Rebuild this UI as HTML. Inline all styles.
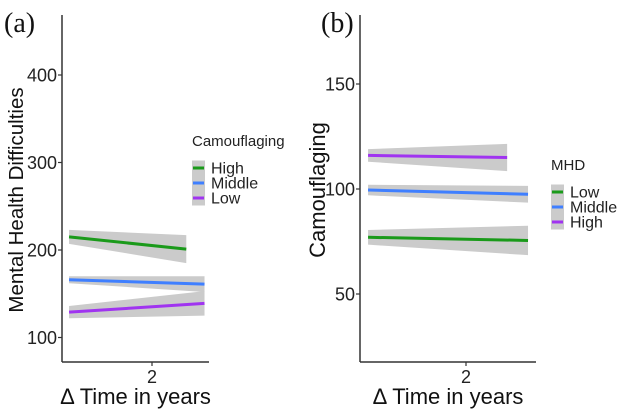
<!DOCTYPE html>
<html><head><meta charset="utf-8"><style>
body{margin:0;background:#fff;}
svg{display:block;font-family:"Liberation Sans",sans-serif;}
</style></head><body>
<svg id="chart" width="624" height="411" viewBox="0 0 624 411">
<rect width="624" height="411" fill="#fff"/>
<g id="pa"></g>
<g id="pb"></g>
</svg>
<script>
const timeStart = 0.5;
const timeEnd = [2.62, 2.95, 2.95];
const aSeries = ["High", "Middle", "Low"];
const aStart = [215, 166, 129];
const aEnd = [201, 161, 139];
const aCiStart = [8, 4, 7];
const aCiEnd = [16, 9, 14];
const aTicks = [100, 200, 300, 400];
const bSeries = ["Low", "Middle", "High"];
const bStart = [77, 99.5, 116];
const bEnd = [75.5, 97.5, 115];
const bCiStart = [3.5, 2.5, 3];
const bCiEnd = [7, 4, 6.5];
const bTimeEnd = [2.95, 2.95, 2.63];
const bTicks = [50, 100, 150];
const xTicks = [2];

const NS = "http://www.w3.org/2000/svg";
function mk(parent, tag, attrs, text){
  const e = document.createElementNS(NS, tag);
  for (const k in attrs) e.setAttribute(k, attrs[k]);
  if (text !== undefined) e.textContent = text;
  parent.appendChild(e);
  return e;
}

function panel(g, cfg){
  const x = t => cfg.x2 + (t - 2) * cfg.pxYear;
  const y = v => cfg.yRef - (v - cfg.vRef) * cfg.pxUnit;
  for (let i = 0; i < cfg.start.length; i++){
    const t0 = timeStart, t1 = cfg.tEnd[i];
    const p = `${x(t0)},${y(cfg.start[i]+cfg.ciS[i])} ${x(t1)},${y(cfg.end[i]+cfg.ciE[i])} ${x(t1)},${y(cfg.end[i]-cfg.ciE[i])} ${x(t0)},${y(cfg.start[i]-cfg.ciS[i])}`;
    const r = mk(g, "polygon", {points:p, fill:"#cbcbcb"});
    
    
  }
  for (let i = 0; i < cfg.start.length; i++){
    const l = mk(g, "line", {x1:x(timeStart), y1:y(cfg.start[i]), x2:x(cfg.tEnd[i]), y2:y(cfg.end[i]), stroke:cfg.colors[i], "stroke-width":3});
    
    
  }
  const ya = mk(g, "line", {x1:cfg.ax, y1:15, x2:cfg.ax, y2:362, stroke:"#333", "stroke-width":1.5});
  
  
  const xa = mk(g, "line", {x1:cfg.ax, y1:362, x2:cfg.axEnd, y2:362, stroke:"#333", "stroke-width":1.5});
  
  
  cfg.ticks.forEach(v => {
    mk(g, "line", {x1:cfg.ax-4, y1:y(v), x2:cfg.ax, y2:y(v), stroke:"#333", "stroke-width":1.2});
    const t = mk(g, "text", {x:cfg.ax-5, y:y(v)+6.5, "text-anchor":"end", "font-size":18, fill:"#222"}, v);
    
    
  });
  xTicks.forEach(v => {
    mk(g, "line", {x1:x(v), y1:362, x2:x(v), y2:366, stroke:"#333", "stroke-width":1.2});
    const t = mk(g, "text", {x:x(v), y:383, "text-anchor":"middle", "font-size":18, fill:"#222"}, v);
    
    
  });
  const xt = mk(g, "text", {x:(cfg.ax+cfg.axEnd)/2, y:404, "text-anchor":"middle", "font-size":22, fill:"#111"}, "Δ Time in years");
  
  
  const yt = mk(g, "text", {x:0, y:0, transform:`translate(${cfg.ytX},${cfg.ytY}) rotate(-90)`, "text-anchor":"middle", "font-size":cfg.ytSize, fill:"#111"}, cfg.ytitle);
  
  
  const pl = mk(g, "text", {x:cfg.plX, y:32, "font-family":"Liberation Serif,serif", "font-size":28, fill:"#111"}, cfg.plabel);
  
  
  const lt = mk(g, "text", {x:cfg.lx, y:cfg.ly, "font-size":15, fill:"#222"}, cfg.ltitle);
  
  
  cfg.series.forEach((s, i) => {
    const cy = cfg.ly + 22 + i*15;
    mk(g, "rect", {x:cfg.lx, y:cy-7.5, width:13, height:15, fill:"#cbcbcb"});
    mk(g, "line", {x1:cfg.lx+1, y1:cy, x2:cfg.lx+12, y2:cy, stroke:cfg.colors[i], "stroke-width":3});
    const t = mk(g, "text", {x:cfg.lx+19, y:cy+5.5, "font-size":16, fill:"#222"}, s);
    
    
  });
}

panel(document.getElementById("pa"), {
  x2:152, pxYear:55.3, yRef:250, vRef:200, pxUnit:0.875, ax:62, axEnd:209,
  start:aStart, end:aEnd, ciS:aCiStart, ciE:aCiEnd, tEnd:timeEnd, series:aSeries,
  colors:["#1a9a1a","#3f7fff","#a034f0"], ticks:aTicks,
  ytitle:"Mental Health Difficulties", ytX:23, ytY:200, ytSize:20.5, plabel:"(a)", plX:4,
  ltitle:"Camouflaging", lx:192, ly:146
});
panel(document.getElementById("pb"), {
  x2:466, pxYear:65.3, yRef:189, vRef:100, pxUnit:2.1, ax:360, axEnd:536,
  start:bStart, end:bEnd, ciS:bCiStart, ciE:bCiEnd, tEnd:bTimeEnd, series:bSeries,
  colors:["#1a9a1a","#3f7fff","#a034f0"], ticks:bTicks,
  ytitle:"Camouflaging", ytX:325, ytY:190, ytSize:22, plabel:"(b)", plX:321,
  ltitle:"MHD", lx:551, ly:170
});
</script>
</body></html>
